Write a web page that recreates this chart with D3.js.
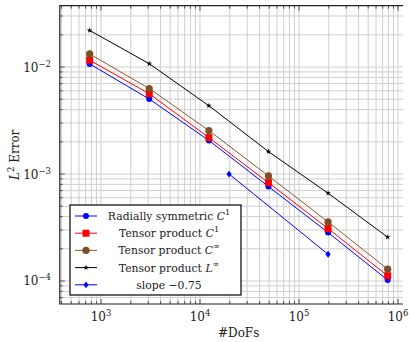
<!DOCTYPE html>
<html>
<head>
<meta charset="utf-8">
<script src="https://cdn.jsdelivr.net/npm/d3@7"></script>
<style>
  body { margin: 0; background: #fff; }
  svg text { font-family: "DejaVu Serif", serif; }
</style>
</head>
<body>
<div id="chart"></div>
<script>
// Datos
const dofs = [768, 3072, 12288, 49152, 196608, 786432];
const radialC1 = [0.0107, 0.00502, 0.00206, 0.000764, 0.000284, 0.000102];
const tensorC1 = [0.0116, 0.00563, 0.00219, 0.00083, 0.000309, 0.000112];
const tensorCinf = [0.01325, 0.0063, 0.00255, 0.00096, 0.000357, 0.000129];
const tensorLinf = [0.0220, 0.01074, 0.00435, 0.00162, 0.000662, 0.000257];
const slopeX = [19660.8, 196608];
const slopeY = [0.001, 0.001 * Math.pow(10, -0.75)];
const xTicks = [1e3, 1e4, 1e5, 1e6];
const yTicks = [1e-4, 1e-3, 1e-2];
const xExp = ["3", "4", "5", "6"];
const yExp = ["\u22124", "\u22123", "\u22122"];

const width = 409, height = 342;
const pLeft = 59.8, pRight = 417.5, pTop = 5.7, pBottom = 304;
const visRight = 403;

const x = d3.scaleLog().domain([Math.pow(10, 2.584), Math.pow(10, 6.197)]).range([pLeft, pRight]);
const y = d3.scaleLog().domain([Math.pow(10, -4.215), Math.pow(10, -1.4266)]).range([pBottom, pTop]);

const svg = d3.select("#chart").append("svg")
  .attr("width", width).attr("height", height);

svg.append("defs").append("clipPath").attr("id", "clip")
  .append("rect").attr("x", pLeft).attr("y", pTop)
  .attr("width", visRight - pLeft).attr("height", pBottom - pTop);

// Rejilla (mayor y menor)
const xMinor = [];
for (let e = 2; e <= 6; e++) for (let m = 1; m <= 9; m++) {
  const v = m * Math.pow(10, e);
  if (v >= x.domain()[0] && v <= x.domain()[1]) xMinor.push(v);
}
const yMinor = [];
for (let e = -5; e <= -2; e++) for (let m = 1; m <= 9; m++) {
  const v = m * Math.pow(10, e);
  if (v >= y.domain()[0] && v <= y.domain()[1]) yMinor.push(v);
}

const grid = svg.append("g").attr("clip-path", "url(#clip)");
grid.selectAll(".gx").data(xMinor).enter().append("line")
  .attr("x1", d => x(d)).attr("x2", d => x(d))
  .attr("y1", pTop).attr("y2", pBottom)
  .attr("stroke", "#cfcfcf").attr("stroke-width", 1);
grid.selectAll(".gy").data(yMinor).enter().append("line")
  .attr("y1", d => y(d)).attr("y2", d => y(d))
  .attr("x1", pLeft).attr("x2", pRight)
  .attr("stroke", "#cfcfcf").attr("stroke-width", 1);

// Marcas de eje (dentro del cuadro)
const ticks = svg.append("g").attr("clip-path", "url(#clip)").attr("stroke", "#555");
xMinor.forEach(v => {
  const len = xTicks.includes(v) ? 5 : 3;
  ticks.append("line").attr("x1", x(v)).attr("x2", x(v)).attr("y1", pBottom).attr("y2", pBottom - len);
  ticks.append("line").attr("x1", x(v)).attr("x2", x(v)).attr("y1", pTop).attr("y2", pTop + len);
});
yMinor.forEach(v => {
  const len = yTicks.some(t => Math.abs(t - v) < 1e-12) ? 5 : 3;
  ticks.append("line").attr("y1", y(v)).attr("y2", y(v)).attr("x1", pLeft).attr("x2", pLeft + len);
});

// Marco
svg.append("path")
  .attr("d", `M${visRight},${pTop}H${pLeft}V${pBottom}H${visRight}`)
  .attr("fill", "none").attr("stroke", "#222").attr("stroke-width", 1.2);

// Etiquetas de los ejes
svg.selectAll(".xt").data(xTicks).enter().append("text")
  .attr("x", d => x(d)).attr("y", 321)
  .attr("text-anchor", "middle").attr("font-size", 12).attr("fill", "#222")
  .each(function(d, i) {
    const t = d3.select(this);
    t.append("tspan").text("10");
    t.append("tspan").attr("dy", -5).attr("font-size", 8.5).text(xExp[i]);
  });
svg.selectAll(".yt").data(yTicks).enter().append("text")
  .attr("x", 51).attr("y", d => y(d) + 4.5)
  .attr("text-anchor", "end").attr("font-size", 12).attr("fill", "#222")
  .each(function(d, i) {
    const t = d3.select(this);
    t.append("tspan").text("10");
    t.append("tspan").attr("dy", -5).attr("font-size", 8.5).text(yExp[i]);
  });

svg.append("text").attr("x", (pLeft + pRight) / 2).attr("y", 337)
  .attr("text-anchor", "middle").attr("font-size", 12).attr("fill", "#222").text("#DoFs");

const yl = svg.append("text")
  .attr("transform", `translate(19,${(pTop + pBottom) / 2}) rotate(-90)`)
  .attr("text-anchor", "middle").attr("font-size", 12).attr("fill", "#222");
yl.append("tspan").attr("font-style", "italic").text("L");
yl.append("tspan").attr("dy", -5).attr("font-size", 8.5).text("2");
yl.append("tspan").attr("dy", 5).text(" Error");

// Series
const series = [
  { name: "Radially symmetric ", sup: "1", sym: "C", xs: dofs, ys: radialC1, color: "#0000ff", marker: "circle", size: 3 },
  { name: "Tensor product ", sup: "1", sym: "C", xs: dofs, ys: tensorC1, color: "#ff0000", marker: "square", size: 3.5 },
  { name: "Tensor product ", sup: "\u221e", sym: "C", xs: dofs, ys: tensorCinf, color: "#8a5a2e", marker: "circle", size: 3.6, fill: "#7d4f26" },
  { name: "Tensor product ", sup: "\u221e", sym: "L", xs: dofs, ys: tensorLinf, color: "#000000", marker: "star", size: 3.2 },
  { name: "slope \u22120.75", sup: null, sym: null, xs: slopeX, ys: slopeY, color: "#0000ff", marker: "diamond", size: 2.6 }
];

const line = d3.line().x(d => x(d[0])).y(d => y(d[1]));

function drawMarker(g, s, cx, cy) {
  const f = s.fill || s.color;
  if (s.marker === "circle") {
    g.append("circle").attr("cx", cx).attr("cy", cy).attr("r", s.size).attr("fill", f);
  } else if (s.marker === "square") {
    g.append("rect").attr("x", cx - s.size).attr("y", cy - s.size)
      .attr("width", 2 * s.size).attr("height", 2 * s.size).attr("fill", f);
  } else if (s.marker === "diamond") {
    g.append("path").attr("d", `M${cx},${cy - s.size * 1.3}L${cx + s.size},${cy}L${cx},${cy + s.size * 1.3}L${cx - s.size},${cy}Z`).attr("fill", f);
  } else {
    g.append("path").attr("transform", `translate(${cx},${cy})`)
      .attr("d", d3.symbol(d3.symbolStar, 10)()).attr("fill", f);
  }
}

const plot = svg.append("g").attr("clip-path", "url(#clip)");
series.forEach(s => {
  const pts = s.xs.map((v, i) => [v, s.ys[i]]);
  plot.append("path").attr("d", line(pts)).attr("fill", "none")
    .attr("stroke", s.color).attr("stroke-width", 1);
  pts.forEach(p => drawMarker(plot, s, x(p[0]), y(p[1])));
});

// Leyenda
const lg = svg.append("g");
lg.append("rect").attr("x", 70).attr("y", 205).attr("width", 171).attr("height", 90)
  .attr("fill", "#fff").attr("stroke", "#000").attr("stroke-width", 1.2);
series.forEach((s, i) => {
  const cy = 216 + i * 17.2;
  lg.append("line").attr("x1", 75).attr("x2", 97).attr("y1", cy).attr("y2", cy)
    .attr("stroke", s.color).attr("stroke-width", 1);
  drawMarker(lg, s, 86, cy);
  const t = lg.append("text").attr("x", 169).attr("y", cy + 4)
    .attr("text-anchor", "middle").attr("font-size", 10.8).attr("fill", "#222");
  t.append("tspan").text(s.name);
  if (s.sym) {
    t.append("tspan").attr("font-style", "italic").text(s.sym);
    t.append("tspan").attr("dy", -5).attr("font-size", 8).text(s.sup);
  }
});
</script>
</body>
</html>
